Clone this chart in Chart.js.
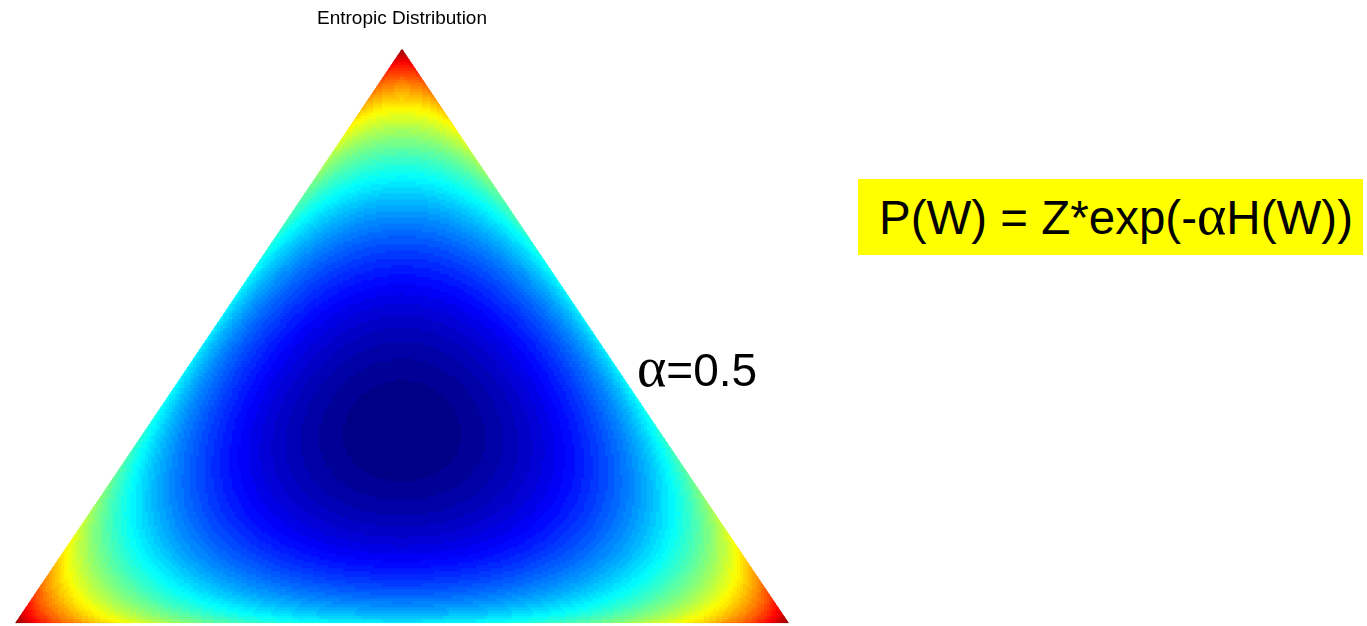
<!DOCTYPE html>
<html>
<head>
<meta charset="utf-8">
<script src="https://cdn.jsdelivr.net/npm/chart.js@4.4.1/dist/chart.umd.min.js"></script>
<style>
  html, body { margin: 0; padding: 0; background: #fff; }
  #wrap { position: relative; width: 1367px; height: 626px; overflow: hidden; }
  #chart { position: absolute; left: 0; top: 0; }
  .note { position: absolute; font-family: "Liberation Sans", Arial, sans-serif; color: #000; white-space: nowrap; }
  .greek { font-family: "Liberation Serif", "Times New Roman", serif; font-size: 56px; line-height: 0; }
  #alphaLabel { left: 637px; top: 347px; font-size: 46px; line-height: 1; }
  #formula { left: 858px; top: 179px; width: 505px; height: 76px; background: #ffff00;
             font-size: 47.5px; line-height: 76px; padding-left: 21px; box-sizing: border-box; padding-top: 1px; }
</style>
</head>
<body>
<div id="wrap">
  <canvas id="chart" width="1367" height="626"></canvas>
  <div class="note" id="alphaLabel"><span class="greek">α</span>=0.5</div>
  <div class="note" id="formula">P(W) = Z*exp(-<span class="greek">α</span>H(W))</div>
</div>
<script>
// chart data
const chartTitle = "Entropic Distribution";
const alpha = 0.5;
// simplex corners in axis units (x, y)
const simplexCorners = [[0, 0], [1, 0], [0.5, 1]];
const colorLevels = 64;
const gridCols = 258;
const gridRows = 192;

// MATLAB style jet colour for v in [0,1]
function jet(v) {
  const c = (t) => Math.round(255 * Math.max(0, Math.min(1, t)));
  const r = c(1.5 - Math.abs(4 * v - 3));
  const g = c(1.5 - Math.abs(4 * v - 2));
  const b = c(1.5 - Math.abs(4 * v - 1));
  return `rgb(${r},${g},${b})`;
}

// entropy of a weight vector
function entropy(w) {
  let h = 0;
  w.forEach((p) => {
    const q = Math.max(p, 1e-12);
    h -= q * Math.log(q);
  });
  return h;
}

// colour shows log P(W) = log Z - alpha*H(W), scaled to its range on the simplex
const logPMax = 0;
const logPMin = -alpha * Math.log(3);

const levels = [];
for (let i = 0; i < colorLevels; i++) levels.push([]);

for (let j = 0; j <= gridRows; j++) {
  const y = j / gridRows;
  for (let i = 0; i <= gridCols; i++) {
    const x = i / gridCols;
    const w2 = x - y / 2;
    const w3 = y;
    const w1 = 1 - w2 - w3;
    const pad = 0.012;
    if (w1 < -pad || w2 < -pad || w3 < -pad) continue;
    const logP = -alpha * entropy([w1, w2, w3]);
    let v = (logP - logPMin) / (logPMax - logPMin);
    v = Math.max(0, Math.min(1, v));
    const k = Math.min(colorLevels - 1, Math.floor(v * colorLevels));
    levels[k].push({ x: x, y: y });
  }
}

const datasets = levels.map((pts, k) => ({
  data: pts,
  backgroundColor: jet((k + 0.5) / colorLevels),
  borderWidth: 0,
  pointStyle: "rect",
  pointRadius: 2.7,
  pointHoverRadius: 2.7,
}));

// clip the cells to the simplex outline
const simplexClip = {
  id: "simplexClip",
  beforeDatasetsDraw(chart) {
    const { ctx, scales } = chart;
    ctx.save();
    ctx.beginPath();
    simplexCorners.forEach(([cx, cy], i) => {
      const px = scales.x.getPixelForValue(cx);
      const py = scales.y.getPixelForValue(cy);
      if (i === 0) ctx.moveTo(px, py);
      else ctx.lineTo(px, py);
    });
    ctx.closePath();
    ctx.clip();
  },
  afterDatasetsDraw(chart) {
    chart.ctx.restore();
  },
};

new Chart(document.getElementById("chart"), {
  type: "scatter",
  data: { datasets: datasets },
  options: {
    responsive: false,
    animation: false,
    events: [],
    layout: { padding: { left: 15, right: 578, top: 0, bottom: 0 } },
    scales: {
      x: { type: "linear", min: 0, max: 1, display: false },
      y: { type: "linear", min: 0, max: 1, display: false },
    },
    plugins: {
      legend: { display: false },
      tooltip: { enabled: false },
      title: {
        display: true,
        text: chartTitle,
        color: "#000",
        font: { family: "'Liberation Sans Narrow', 'Liberation Sans', Arial", size: 19, weight: "normal" },
        padding: { top: 7, bottom: 19 },
      },
    },
  },
  plugins: [simplexClip],
});
</script>
</body>
</html>
